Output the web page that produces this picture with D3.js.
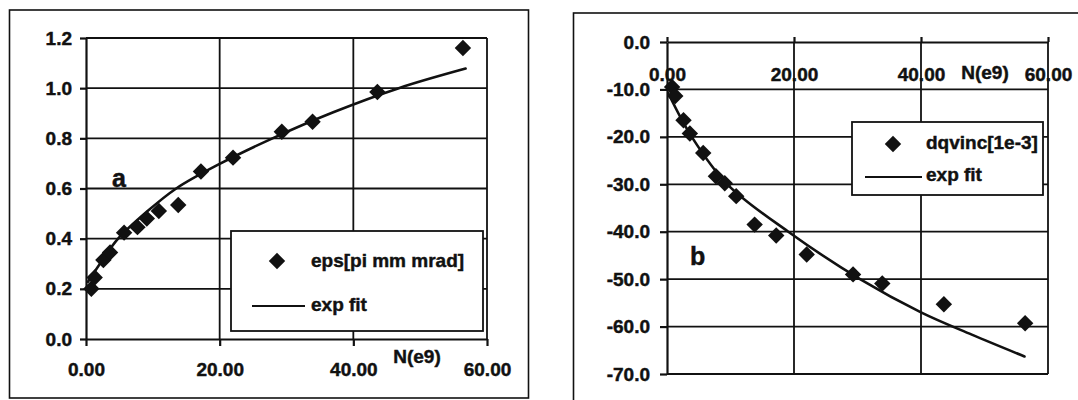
<!DOCTYPE html>
<html>
<head>
<meta charset="utf-8">
<script src="https://cdn.jsdelivr.net/npm/d3@7"></script>
<style>
  html, body { margin: 0; padding: 0; background: #fff; }
  svg { display: block; }
</style>
</head>
<body>
<svg id="chart" width="1078" height="400"></svg>
<script>
// Beam intensity N (units of 1e9), shared by both panels
const nValues = [0.8, 1.3, 2.6, 3.6, 5.7, 7.7, 9.1, 10.9, 13.8, 17.2, 22.0, 29.3, 33.9, 43.6, 56.4];

// Panel a: emittance eps [pi mm mrad] and its exponential fit
const epsValues = [0.20, 0.245, 0.315, 0.345, 0.424, 0.446, 0.48, 0.51, 0.534, 0.668, 0.723, 0.826, 0.866, 0.985, 1.16];
const epsFitN = [0.3, 2.5, 4.8, 9, 13.5, 20, 27.9, 37, 46.8, 56.8];
const epsFitValues = [0.228, 0.316, 0.40, 0.505, 0.60, 0.698, 0.80, 0.904, 1.00, 1.078];

// Panel b: dqvinc [1e-3] and its exponential fit
const dqValues = [-9.5, -11.4, -16.5, -19.3, -23.4, -28.3, -29.8, -32.5, -38.5, -40.8, -44.8, -49.0, -50.9, -55.3, -59.3];
const dqFitN = [0.2, 3.9, 9.5, 19.1, 30.4, 40, 48, 56.3];
const dqFitValues = [-10.8, -20, -30, -40, -50, -57.0, -61.7, -66.3];

// Tick values and their labels
const xTicks = [0, 20, 40, 60];
const xTickLabels = ["0.00", "20.00", "40.00", "60.00"];
const epsTicks = [0, 0.2, 0.4, 0.6, 0.8, 1.0, 1.2];
const epsTickLabels = ["0.0", "0.2", "0.4", "0.6", "0.8", "1.0", "1.2"];
const dqTicks = [0, -10, -20, -30, -40, -50, -60, -70];
const dqTickLabels = ["0.0", "-10.0", "-20.0", "-30.0", "-40.0", "-50.0", "-60.0", "-70.0"];

const FONT = "'Liberation Sans', Arial, Helvetica, sans-serif";
const INK = "#111";

const svg = d3.select("#chart");

const labelOf = (ticks, labels) => d => labels[ticks.indexOf(d)];
const diamond = d3.symbol().type(d3.symbolSquare).size(135);

// heavy bold lettering
function boldText(sel, size) {
  return sel.attr("font-family", FONT).attr("font-weight", "bold").attr("font-size", size)
    .attr("fill", INK).attr("stroke", INK).attr("stroke-width", 0.45);
}

function styleAxis(g, width) {
  g.attr("font-size", 19).attr("font-family", FONT).attr("font-weight", "bold").attr("color", INK);
  g.selectAll("line, path").attr("stroke-width", width);
  g.selectAll("text").attr("stroke", INK).attr("stroke-width", 0.45);
}

function drawPanel(cfg) {
  const { x, y, yTicks, yTickLabels, values, fitN, fitValues } = cfg;
  const g = svg.append("g");
  const [x0, x1] = x.range();
  const [yb, yt] = [y(y.domain()[0]), y(y.domain()[1])];

  // horizontal gridlines
  g.append("g").selectAll("line")
    .data(yTicks.filter(d => d !== cfg.xAxisAt))
    .join("line")
    .attr("x1", x0).attr("x2", x1)
    .attr("y1", d => y(d)).attr("y2", d => y(d))
    .attr("stroke", INK).attr("stroke-width", 1.8);

  // vertical gridlines
  g.append("g").selectAll("line")
    .data(xTicks.filter(d => d !== 0))
    .join("line")
    .attr("x1", d => x(d)).attr("x2", d => x(d))
    .attr("y1", yt).attr("y2", yb)
    .attr("stroke", INK).attr("stroke-width", 1.8);

  // x axis
  const xAxis = d3.axisBottom(x).tickValues(xTicks)
    .tickFormat(labelOf(xTicks, xTickLabels))
    .tickSize(cfg.xTickSize).tickSizeOuter(0).tickPadding(cfg.xTickPadding);
  g.append("g").attr("transform", `translate(0,${y(cfg.xAxisAt)})`)
    .call(xAxis).call(a => styleAxis(a, 2.2));

  // y axis
  const yAxis = d3.axisLeft(y).tickValues(yTicks)
    .tickFormat(labelOf(yTicks, yTickLabels))
    .tickSize(cfg.yTickSize).tickSizeOuter(0).tickPadding(cfg.yTickPadding);
  g.append("g").attr("transform", `translate(${x(0)},0)`)
    .call(yAxis).call(a => styleAxis(a, 2.2));

  // fit curve
  const line = d3.line().x(d => x(d[0])).y(d => y(d[1])).curve(d3.curveCatmullRom.alpha(0.5));
  g.append("path")
    .datum(d3.zip(fitN, fitValues))
    .attr("d", line)
    .attr("fill", "none").attr("stroke", INK).attr("stroke-width", 2.6)
    .attr("stroke-linecap", "round");

  // measured points
  g.append("g").selectAll("path")
    .data(d3.zip(nValues, values))
    .join("path")
    .attr("d", diamond)
    .attr("transform", d => `translate(${x(d[0])},${y(d[1])}) rotate(45)`)
    .attr("fill", INK);

  // legend
  const L = cfg.legend;
  const lg = g.append("g");
  lg.append("rect").attr("x", L.x).attr("y", L.y).attr("width", L.w).attr("height", L.h)
    .attr("fill", "#fff").attr("stroke", INK).attr("stroke-width", 1.8);
  lg.append("path").attr("d", diamond)
    .attr("transform", `translate(${L.markX},${L.markY}) rotate(45)`).attr("fill", INK);
  lg.append("text").attr("x", L.textX).attr("y", L.text1Y).text(L.name).call(boldText, 19);
  lg.append("line").attr("x1", L.lineX1).attr("x2", L.lineX2)
    .attr("y1", L.lineY).attr("y2", L.lineY).attr("stroke", INK).attr("stroke-width", 2.2);
  lg.append("text").attr("x", L.textX).attr("y", L.text2Y).text("exp fit").call(boldText, 19);

  // axis title and panel letter
  g.append("text").attr("x", cfg.titleX).attr("y", cfg.titleY)
    .attr("text-anchor", "middle").text("N(e9)").call(boldText, 19);
  g.append("text").attr("x", cfg.letterX).attr("y", cfg.letterY)
    .text(cfg.letter).call(boldText, 25);
}

// outer frames
svg.append("rect").attr("x", 9.5).attr("y", 10).attr("width", 519).attr("height", 388)
  .attr("fill", "none").attr("stroke", INK).attr("stroke-width", 1.6);
svg.append("rect").attr("x", 573.5).attr("y", 13).attr("width", 540).attr("height", 420)
  .attr("fill", "none").attr("stroke", INK).attr("stroke-width", 1.6);

// panel a
drawPanel({
  x: d3.scaleLinear().domain([0, 60]).range([86, 487]),
  y: d3.scaleLinear().domain([0, 1.2]).range([339, 38]),
  yTicks: epsTicks, yTickLabels: epsTickLabels,
  values: epsValues, fitN: epsFitN, fitValues: epsFitValues,
  xAxisAt: 0, xTickSize: 7, xTickPadding: 17,
  yTickSize: 6, yTickPadding: 8,
  legend: { x: 231, y: 231, w: 252, h: 100, markX: 277, markY: 261, textX: 311,
            text1Y: 267, lineX1: 252, lineX2: 305, lineY: 306, text2Y: 311,
            name: "eps[pi mm mrad]" },
  titleX: 417, titleY: 363, letter: "a", letterX: 112, letterY: 187
});

// panel b
drawPanel({
  x: d3.scaleLinear().domain([0, 60]).range([667, 1048]),
  y: d3.scaleLinear().domain([-70, 0]).range([374, 42]),
  yTicks: dqTicks, yTickLabels: dqTickLabels,
  values: dqValues, fitN: dqFitN, fitValues: dqFitValues,
  xAxisAt: 0, xTickSize: -5, xTickPadding: 26,
  yTickSize: 7, yTickPadding: 10,
  legend: { x: 852, y: 122, w: 191, h: 73, markX: 893, markY: 144, textX: 926,
            text1Y: 149, lineX1: 865, lineX2: 922, lineY: 177, text2Y: 181,
            name: "dqvinc[1e-3]" },
  titleX: 985, titleY: 79, letter: "b", letterX: 690, letterY: 265
});
</script>
</body>
</html>
